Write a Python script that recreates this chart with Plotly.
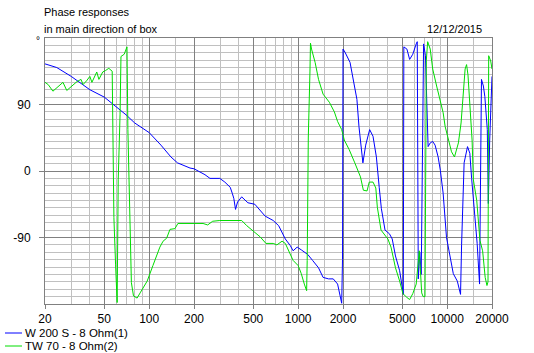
import plotly.graph_objects as go

# ---------------- data ----------------
w200_freq = [20, 24, 30, 40, 50, 60, 70, 80, 100, 120, 140, 155, 168, 188, 200, 218, 237, 256, 298,
             322, 350, 361, 370, 380, 392, 418, 460, 512, 555, 600, 680, 740, 820, 886, 925, 985,
             1054, 1160, 1250, 1370, 1470, 1600, 1720, 1840, 1960, 1985, 2000, 2060, 2230, 2340,
             2480, 2560, 2680, 2720, 2840, 3020, 3180, 3350, 3500, 3620, 3830, 4000, 4100, 4280,
             4500, 4800, 5000, 5080, 5120, 5370, 5600, 5880, 6200, 6300, 6400, 6550, 6700, 6950,
             7150, 7300, 7450, 7700, 8000, 8300, 8700, 9000, 9400, 9900, 10400, 11000, 11700,
             12300, 12500, 12700, 13000, 13700, 14200, 14600, 15200, 15900, 16500, 16800, 17000,
             17500, 17900, 18600, 18900, 19300, 19700, 20000]
w200_phase = [145, 140, 128, 110, 100, 87, 76, 65, 52, 35, 19, 11, 8, 4, 3, -1, -5, -10, -10,
              -15, -22, -30, -37, -52, -42, -35, -43, -45, -53, -61, -67, -74, -92, -101, -108, -103,
              -107, -113, -121, -131, -144, -146, -146, -153, -179, -120, 165, 161, 147, 124,
              97, 60, 24, 11, 35, 56, 47, 19, -22, -51, -80, -83, -85, -92,
              -115, -135, -162, -167, 168, 165, 151, 158, 172, 175, -146, -110, -140, 172,
              156, 90, 33, 38, 40, 35, 19, 1, -30, -90, -112, -139, -149,
              -167, -100, -44, 11, 33, 24, -10, -53, -98, -153, 50, 124,
              115, 101, 56, -44, 42, 87, 128]

tw70_freq = [20, 21, 22.6, 24, 26.4, 28, 30.3, 32.8, 34.9, 36, 38, 40, 41.3, 44.5, 46, 48.8, 51,
             53.6, 56.5, 57, 58, 59.5, 61, 62, 63.8, 64.7, 68, 71, 72, 74, 76, 78.5, 83, 87, 97,
             106, 118, 124, 131, 138, 149, 156, 161, 179, 194, 209, 230, 247, 267, 298, 330, 418,
             452, 500, 555, 608, 680, 720, 780, 820, 860, 925, 1000, 1050, 1100, 1140, 1150, 1170,
             1200, 1210, 1230, 1300, 1370, 1470, 1620, 1750, 1840, 1960, 2040, 2200, 2400, 2620,
             2740, 2900, 3000, 3180, 3320, 3400, 3600, 4000, 4200, 4500, 4800, 5050, 5360, 5600,
             5880, 6200, 6500, 6750, 6900, 7100, 7250, 7400, 7700, 8000, 8500, 8900, 9400, 9700,
             10300, 10700, 11200, 11900, 12400, 12800, 13200, 13500, 13800, 14000, 14300, 14700,
             15000, 15800, 16600, 17300, 18000, 18500, 18800, 19000, 19600, 20000]
tw70_phase = [120, 117, 108, 113, 120, 109, 115, 121, 124, 117, 122, 128, 120, 134, 124, 134, 136,
              139, 135, 18, -63, -126, -178, -12, 76, 155, 158, 168, 56, -49, -151, -169, -172, -165, -149,
              -128, -103, -95, -91, -79, -78, -71, -71, -70, -70, -70, -71, -73, -68, -67, -67, -67,
              -74, -82, -89, -98, -98, -100, -95, -98, -108, -121, -128, -139, -153, -162, -121, 46,
              134, 173, 165, 147, 124, 104, 93, 80, 67, 56, 42, 29, 11, -8,
              -26, -27, -15, -15, -23, -49, -80, -92, -103, -131, -149, -166, -171, -174,
              -166, -153, -108, -165, -170, -170, 150, 175, 165, 138, 115, 97, 79, 60,
              40, 26, 19, 38, 65, 101, 138, 144, 130, 110, 74, 42,
              -12, -40, -94, -108, -144, -155, -150, 156, 149, 138]

series_names = ["W 200 S - 8 Ohm(1)", "TW 70 - 8 Ohm(2)"]
series_colors = ["#0000ff", "#00dd00"]

x_major = [20, 50, 100, 200, 500, 1000, 2000, 5000, 10000, 20000]
x_major_labels = ["20", "50", "100", "200", "500", "1000", "2000", "5000", "10000", "20000"]
x_minor = [30, 40, 60, 70, 80, 90, 150, 300, 400, 600, 700, 800, 900, 1500, 3000, 4000,
           6000, 7000, 8000, 9000, 15000]
y_major = [-90, 0, 90]
y_minor = [v for v in range(-170, 180, 10) if v not in (-90, 0, 90)]

title1 = "Phase responses"
title2 = "in main direction of box"
date_text = "12/12/2015"
unit_text = "°"

# ---------------- layout helpers ----------------
W, H = 534, 353
L, R, T, B = 45, 492, 38, 304


def px(x):
    return (x - L) / (R - L)


def py(y):
    return (B - y) / (B - T)


FONT = "Liberation Sans, Arial, sans-serif"
DARK = "#808080"
LIGHT = "#c0c0c0"

fig = go.Figure()
for f, p, name, col in zip([w200_freq, tw70_freq], [w200_phase, tw70_phase], series_names, series_colors):
    fig.add_trace(go.Scatter(x=f, y=p, mode="lines", name=name,
                             line=dict(color=col, width=1), showlegend=False))

fig.update_layout(
    width=W, height=H,
    margin=dict(l=L, r=W - R, t=T, b=H - B),
    paper_bgcolor="white", plot_bgcolor="white",
    font=dict(family=FONT, size=12, color="black"),
)
fig.update_xaxes(
    type="log", range=[1.30103, 4.30103],
    tickmode="array", tickvals=x_major, ticktext=x_major_labels,
    ticks="outside", ticklen=4, tickcolor=DARK, tickwidth=1,
    showgrid=True, gridcolor=DARK, gridwidth=1,
    minor=dict(tickmode="array", tickvals=x_minor, showgrid=True, gridcolor=LIGHT, gridwidth=1, ticks=""),
    showline=True, linecolor=DARK, linewidth=1, mirror=True,
    zeroline=False, tickfont=dict(size=12, family=FONT),
)
fig.update_yaxes(
    range=[-180, 180],
    tickmode="array", tickvals=y_major, ticktext=[str(v) for v in y_major],
    ticks="outside", ticklen=5, tickcolor=DARK, tickwidth=1,
    showgrid=True, gridcolor=DARK, gridwidth=1,
    minor=dict(tickmode="array", tickvals=y_minor, showgrid=True, gridcolor=LIGHT, gridwidth=1, ticks=""),
    showline=True, linecolor=DARK, linewidth=1, mirror=True,
    zeroline=False, tickfont=dict(size=12, family=FONT), ticklabelstandoff=6,
)

ann = [
    dict(text=title1, x=px(43), y=py(12), xanchor="left", yanchor="middle", font=dict(size=11)),
    dict(text=title2, x=px(43), y=py(29), xanchor="left", yanchor="middle", font=dict(size=11)),
    dict(text=date_text, x=px(483), y=py(29), xanchor="right", yanchor="middle", font=dict(size=11)),
    dict(text=unit_text, x=px(41), y=py(34), xanchor="right", yanchor="top", font=dict(size=10)),
]
legend_y = [333, 346]
for name, col, ly in zip(series_names, series_colors, legend_y):
    ann.append(dict(text=name, x=px(24), y=py(ly), xanchor="left", yanchor="middle", font=dict(size=11.5)))
    fig.add_shape(type="line", xref="paper", yref="paper", x0=px(5), x1=px(22), y0=py(ly), y1=py(ly),
                  line=dict(color=col, width=1))
for a in ann:
    a.update(xref="paper", yref="paper", showarrow=False, borderpad=0)
    fig.add_annotation(**a)

fig.write_html("out.html")
